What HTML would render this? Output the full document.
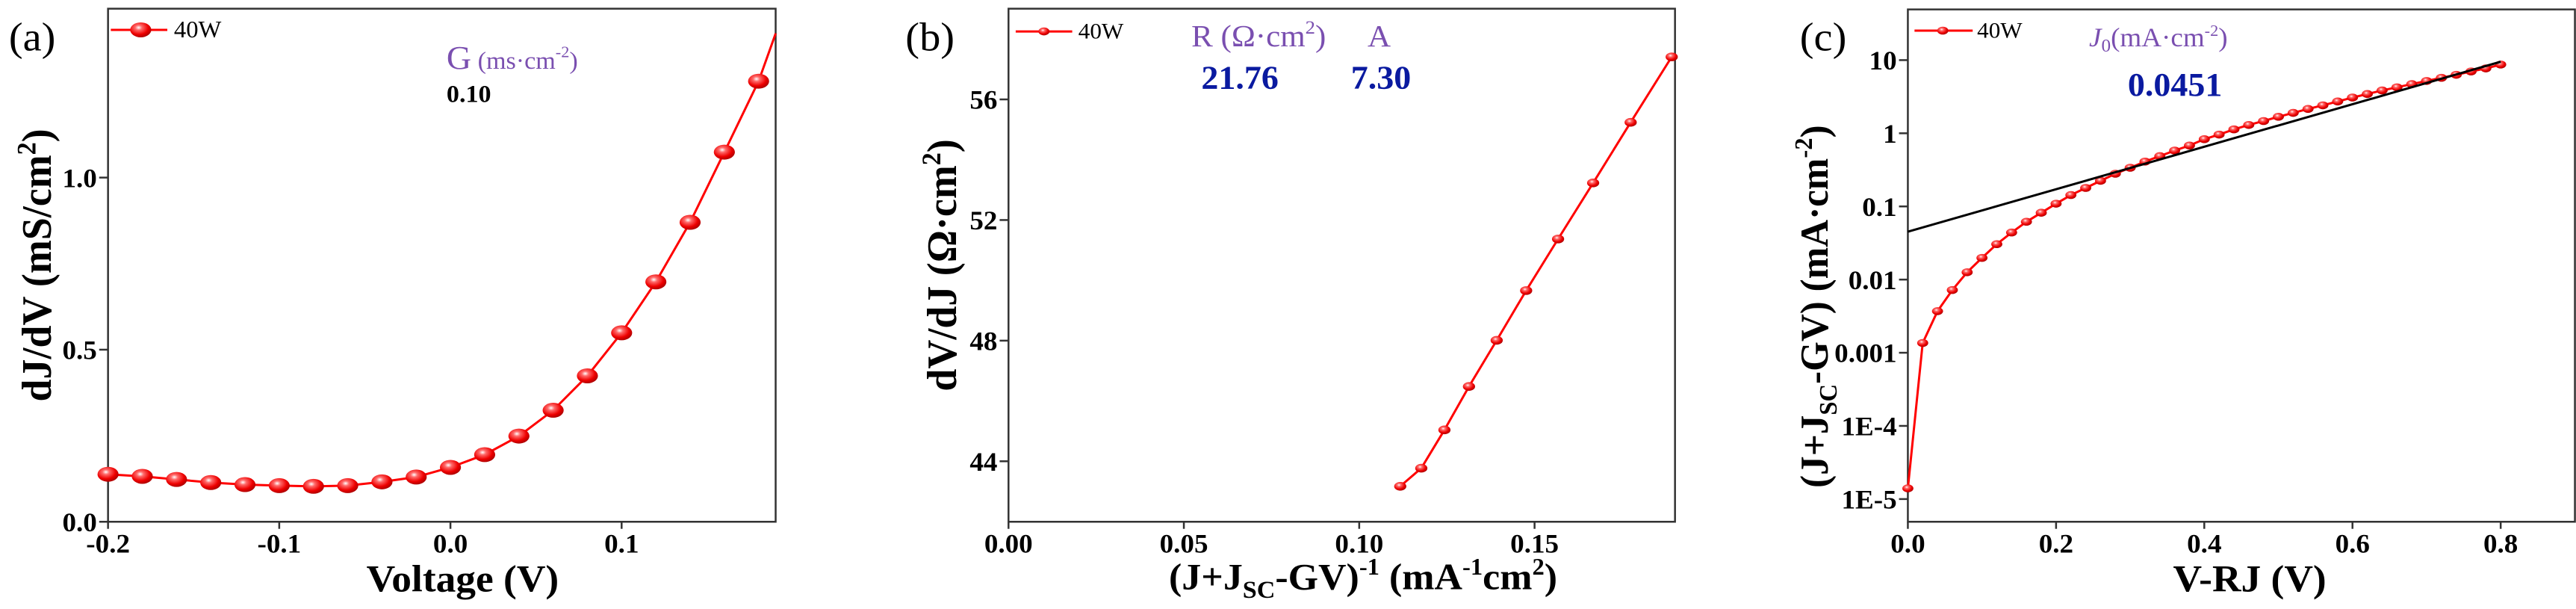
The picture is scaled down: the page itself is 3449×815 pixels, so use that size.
<!DOCTYPE html>
<html><head><meta charset="utf-8">
<style>
html,body{margin:0;padding:0;background:#fff;}
svg{display:block;}
text{font-family:"Liberation Serif",serif;}
</style></head>
<body>
<svg id="fig" width="3449" height="815" xmlns="http://www.w3.org/2000/svg">
<defs>
<radialGradient id="ball" cx="0.4" cy="0.35" r="0.65">
<stop offset="0" stop-color="#ffffff"/><stop offset="0.25" stop-color="#ff6a6a"/><stop offset="0.7" stop-color="#ee0000"/><stop offset="1" stop-color="#b00000"/>
</radialGradient>
</defs>
<!-- Panel A -->
<g id="pa" transform="translate(0,0) scale(0.7418,0.5258)">
<rect x="195" y="22" width="1205" height="1306" fill="none" stroke="#333" stroke-width="2.5" vector-effect="non-scaling-stroke"/>
<text transform="translate(16,128) scale(1,1.35)" font-size="76">(a)</text>
<line x1="200" y1="76" x2="302" y2="76" stroke="#f00" stroke-width="3" vector-effect="non-scaling-stroke"/>
<circle cx="254" cy="76" r="19" fill="url(#ball)"/>
<text transform="translate(314,95) scale(1,1.35)" font-size="44">40W</text>
<text transform="translate(806,175) scale(1,1.35)" fill="#7a4fb0"><tspan font-size="62">G</tspan><tspan font-size="46"> (ms·cm</tspan><tspan font-size="30" dy="-22">-2</tspan><tspan font-size="46" dy="22">)</tspan></text>
<text transform="translate(806,260) scale(1,1.35)" font-size="46" font-weight="bold">0.10</text>
<text transform="translate(835,1505) scale(1,1.35)" font-size="72" font-weight="bold" text-anchor="middle">Voltage (V)</text>
<text transform="translate(92,675) rotate(-90) scale(1.35,1)" font-size="76" font-weight="bold" text-anchor="middle">dJ/dV (mS/cm<tspan font-size="48" dy="-28">2</tspan><tspan dy="28">)</tspan></text>
</g>
<!-- Panel B -->
<g id="pb" transform="translate(1150,0) scale(0.7418,0.5258)">
<rect x="270" y="22" width="1203" height="1306" fill="none" stroke="#333" stroke-width="2.5" vector-effect="non-scaling-stroke"/>
<text transform="translate(84,128) scale(1,1.35)" font-size="76">(b)</text>
<line x1="283" y1="80" x2="385" y2="80" stroke="#f00" stroke-width="3" vector-effect="non-scaling-stroke"/>
<circle cx="334" cy="80" r="10" fill="url(#ball)"/>
<text transform="translate(396,98) scale(1,1.35)" font-size="42">40W</text>
<text transform="translate(600,118) scale(1,1.35)" fill="#7a4fb0" font-size="58">R (Ω·cm<tspan font-size="36" dy="-24">2</tspan><tspan dy="24">)</tspan></text>
<text transform="translate(918,118) scale(1,1.35)" fill="#7a4fb0" font-size="58">A</text>
<text transform="translate(618,225) scale(1,1.35)" fill="#0a1aa0" font-size="62" font-weight="bold">21.76</text>
<text transform="translate(888,225) scale(1,1.35)" fill="#0a1aa0" font-size="62" font-weight="bold">7.30</text>
<text transform="translate(910,1500) scale(1,1.35)" font-size="70" font-weight="bold" text-anchor="middle">(J+J<tspan font-size="46" dy="16">SC</tspan><tspan dy="-16">-GV)</tspan><tspan font-size="44" dy="-28">-1</tspan><tspan dy="28"> (mA</tspan><tspan font-size="44" dy="-28">-1</tspan><tspan dy="28">cm</tspan><tspan font-size="44" dy="-28">2</tspan><tspan dy="28">)</tspan></text>
<text transform="translate(175,675) rotate(-90) scale(1.35,1)" font-size="76" font-weight="bold" text-anchor="middle">dV/dJ (Ω·cm<tspan font-size="48" dy="-28">2</tspan><tspan dy="28">)</tspan></text>
</g>
<!-- Panel C -->
<g id="pc" transform="translate(2300,0) scale(0.7418,0.5258)">
<rect x="343" y="24" width="1204" height="1304" fill="none" stroke="#333" stroke-width="2.5" vector-effect="non-scaling-stroke"/>
<text transform="translate(148,128) scale(1,1.35)" font-size="76">(c)</text>
<line x1="355" y1="78" x2="460" y2="78" stroke="#f00" stroke-width="3" vector-effect="non-scaling-stroke"/>
<circle cx="406" cy="78" r="10" fill="url(#ball)"/>
<text transform="translate(468,96) scale(1,1.35)" font-size="42">40W</text>
<text transform="translate(670,118) scale(1,1.35)" fill="#7a4fb0" font-size="50"><tspan font-style="italic">J</tspan><tspan font-size="34" dy="10">0</tspan><tspan dy="-10">(mA·cm</tspan><tspan font-size="30" dy="-20">-2</tspan><tspan dy="20">)</tspan></text>
<text transform="translate(740,243) scale(1,1.35)" fill="#0a1aa0" font-size="62" font-weight="bold">0.0451</text>
<text transform="translate(960,1505) scale(1,1.35)" font-size="72" font-weight="bold" text-anchor="middle">V-RJ (V)</text>
<text transform="translate(198,780) rotate(-90) scale(1.35,1)" font-size="72" font-weight="bold" text-anchor="middle">(J+J<tspan font-size="46" dy="16">SC</tspan><tspan dy="-16">-GV) (mA·cm</tspan><tspan font-size="46" dy="-28">-2</tspan><tspan dy="28">)</tspan></text>
</g>
</svg>
<script>
// ---- Panel A data ----
const aVoltage = [-0.2,-0.18,-0.16,-0.14,-0.12,-0.1,-0.08,-0.06,-0.04,-0.02,0,0.02,0.04,0.06,0.08,0.1,0.12,0.14,0.16,0.18];
const aConductance = [0.138,0.132,0.123,0.114,0.108,0.105,0.103,0.105,0.116,0.130,0.158,0.195,0.249,0.324,0.424,0.549,0.697,0.870,1.074,1.280];
const aLineEndX = [0.19];
const aLineEndY = [1.419];
const aXTicks = [-0.2,-0.1,0.0,0.1];
const aXTickLabels = ["-0.2","-0.1","0.0","0.1"];
const aYTicks = [0,0.5,1.0];
const aYTickLabels = ["0.0","0.5","1.0"];
// ---- Panel B data ----
const bInvCurrent = [0.1117,0.1177,0.1243,0.1313,0.1392,0.1476,0.1567,0.1667,0.1774,0.1891];
const bResistance = [43.17,43.77,45.04,46.48,48.01,49.66,51.37,53.23,55.24,57.41];
const bXTicks = [0,0.05,0.10,0.15];
const bXTickLabels = ["0.00","0.05","0.10","0.15"];
const bYTicks = [44,48,52,56];
const bYTickLabels = ["44","48","52","56"];
// ---- Panel C data ----
const cVoltage = [0,0.02,0.04,0.06,0.08,0.10,0.12,0.14,0.16,0.18,0.20,0.22,0.24,0.26,0.28,0.30,0.32,0.34,0.36,0.38,0.40,0.42,0.44,0.46,0.48,0.50,0.52,0.54,0.56,0.58,0.60,0.62,0.64,0.66,0.68,0.70,0.72,0.74,0.76,0.78,0.80];
const cCurrent = [1.4e-5,0.00136,0.0037,0.0072,0.0126,0.0198,0.0305,0.044,0.0617,0.082,0.109,0.143,0.179,0.224,0.28,0.338,0.41,0.487,0.58,0.68,0.83,0.96,1.13,1.30,1.47,1.68,1.9,2.15,2.41,2.72,3.08,3.44,3.85,4.25,4.7,5.19,5.73,6.3,7.0,7.7,8.7];
const cFitX = [0,0.8];
const cFitY = [0.0451,9.5];
const cXTicks = [0,0.2,0.4,0.6,0.8];
const cXTickLabels = ["0.0","0.2","0.4","0.6","0.8"];
const cYTicks = [10,1,0.1,0.01,0.001,1e-4,1e-5];
const cYTickLabels = ["10","1","0.1","0.01","0.001","1E-4","1E-5"];

const NS = "http://www.w3.org/2000/svg";
function mk(tag, attrs, parent){ const e=document.createElementNS(NS,tag); for(const k in attrs) e.setAttribute(k,attrs[k]); parent.appendChild(e); return e; }

// axis functions
const axA = {x:v=>195+(v+0.2)/0.1*309, y:v=>1328-v*876, left:195, bottom:1328};
const axB = {x:v=>270+v/0.05*316.5, y:v=>253+(56-v)/4*307, left:270, bottom:1328};
const axC = {x:v=>343+v/0.2*267.5, y:v=>153-(Math.log10(v)-1)*186.2, left:343, bottom:1328};

function ticks(g, ax, xt, xl, yt, yl, tag){
  xt.forEach((v,i)=>{
    const t = mk('line',{x1:ax.x(v),x2:ax.x(v),y1:ax.bottom,y2:ax.bottom+18,stroke:'#333','stroke-width':2.5,'vector-effect':'non-scaling-stroke'},g);
    
    
    const l = mk('text',{transform:`translate(${ax.x(v)},${ax.bottom+78}) scale(1,1.35)`,'font-size':50,'font-weight':'bold','text-anchor':'middle'},g);
    l.textContent = xl[i];
    
    
  });
  yt.forEach((v,i)=>{
    const t = mk('line',{x1:ax.left-16,x2:ax.left,y1:ax.y(v),y2:ax.y(v),stroke:'#333','stroke-width':2.5,'vector-effect':'non-scaling-stroke'},g);
    
    
    const l = mk('text',{transform:`translate(${ax.left-20},${ax.y(v)+24}) scale(1,1.35)`,'font-size':50,'font-weight':'bold','text-anchor':'end'},g);
    l.textContent = yl[i];
    
    
  });
}
function series(g, ax, xs, ys, r, tag, extraX, extraY){
  let pts = xs.map((v,i)=>ax.x(v)+','+ax.y(ys[i]));
  if(extraX) extraX.forEach((v,i)=>pts.push(ax.x(v)+','+ax.y(extraY[i])));
  const pl = mk('polyline',{points:pts.join(' '),fill:'none',stroke:'#f00','stroke-width':3,'vector-effect':'non-scaling-stroke'},g);
  
  
  xs.forEach((v,i)=>{
    const c = mk('circle',{cx:ax.x(v),cy:ax.y(ys[i]),r:r,fill:'url(#ball)'},g);
    
    
  });
}
const ga=document.getElementById('pa'), gb=document.getElementById('pb'), gc=document.getElementById('pc');
ticks(ga, axA, aXTicks, aXTickLabels, aYTicks, aYTickLabels, 'a');
ticks(gb, axB, bXTicks, bXTickLabels, bYTicks, bYTickLabels, 'b');
ticks(gc, axC, cXTicks, cXTickLabels, cYTicks, cYTickLabels, 'c');
series(ga, axA, aVoltage, aConductance, 19, 'a-conductance', aLineEndX, aLineEndY);
series(gb, axB, bInvCurrent, bResistance, 11, 'b-resistance');
series(gc, axC, cVoltage, cCurrent, 10, 'c-current');
const fit = mk('line',{x1:axC.x(cFitX[0]),y1:axC.y(cFitY[0]),x2:axC.x(cFitX[1]),y2:axC.y(cFitY[1]),stroke:'#000','stroke-width':3,'vector-effect':'non-scaling-stroke'},gc);


</script>
</body></html>
